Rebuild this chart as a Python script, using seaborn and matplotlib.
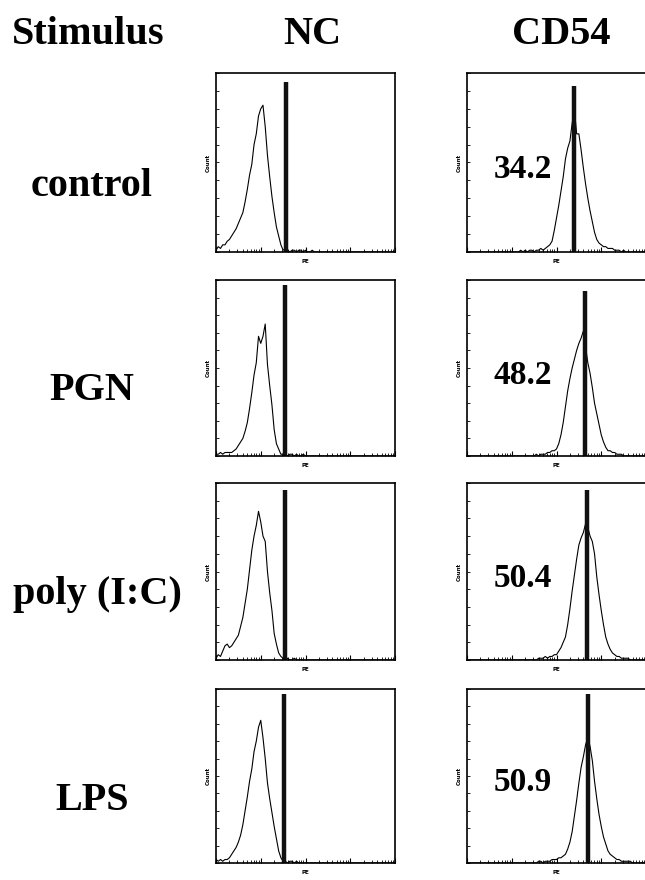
import numpy as np
import pandas as pd
import matplotlib
matplotlib.use("Agg")
import matplotlib.pyplot as plt
from matplotlib.ticker import LogLocator, NullFormatter, FixedLocator
import seaborn as sns

sns.set_theme(style="white")
plt.rcParams['font.family'] = ['Liberation Serif', 'DejaVu Serif']

# ---------------- data ----------------
stimuli = ["control", "PGN", "poly (I:C)", "LPS"]
columns = ["NC", "CD54"]
cd54_pct = ["34.2", "48.2", "50.4", "50.9"]

# PE axis: log decades 0..4 in steps of 0.05 (bin centres)
decades = np.round(np.arange(0, 4.0001, 0.05), 2)

nc_control = [1, 3, 2, 4, 4, 6, 7, 9, 11, 13, 16, 19, 22, 28, 35, 43, 49, 60, 66, 76,
              80, 82, 70, 54, 42, 31, 22, 14, 9, 4, 1, 2, 1, 0, 1, 1, 0, 1, 1, 0,
              1, 0, 0, 1, 0, 0, 0, 0, 0, 0, 0, 0, 0, 0, 0, 0, 0, 0, 0, 0,
              0, 0, 0, 0, 0, 0, 0, 0, 0, 0, 0, 0, 0, 0, 0, 0, 0, 0, 0, 0, 0]
nc_pgn = [1, 1, 2, 1, 2, 2, 2, 2, 3, 4, 6, 8, 10, 14, 19, 27, 36, 46, 53, 68,
          64, 68, 75, 52, 40, 29, 15, 7, 4, 1, 1, 1, 0, 1, 1, 0, 1, 0, 0, 1,
          0, 0, 0, 0, 0, 0, 0, 0, 0, 0, 0, 0, 0, 0, 0, 0, 0, 0, 0, 0,
          0, 0, 0, 0, 0, 0, 0, 0, 0, 0, 0, 0, 0, 0, 0, 0, 0, 0, 0, 0, 0]
nc_polyic = [1, 3, 2, 5, 8, 9, 7, 8, 10, 12, 14, 19, 24, 32, 40, 51, 62, 70, 76, 84,
             78, 70, 67, 50, 38, 28, 15, 9, 4, 2, 1, 0, 1, 0, 0, 1, 0, 0, 0, 0,
             0, 0, 0, 0, 0, 0, 0, 0, 0, 0, 0, 0, 0, 0, 0, 0, 0, 0, 0, 0,
             0, 0, 0, 0, 0, 0, 0, 0, 0, 0, 0, 0, 0, 0, 0, 0, 0, 0, 0, 0, 0]
nc_lps = [2, 1, 2, 1, 2, 2, 3, 5, 7, 9, 12, 16, 22, 30, 38, 47, 54, 64, 70, 78,
          82, 72, 60, 46, 37, 29, 21, 14, 7, 3, 1, 1, 0, 1, 1, 0, 1, 0, 0, 0,
          0, 0, 0, 0, 0, 0, 0, 0, 0, 0, 0, 0, 0, 0, 0, 0, 0, 0, 0, 0,
          0, 0, 0, 0, 0, 0, 0, 0, 0, 0, 0, 0, 0, 0, 0, 0, 0, 0, 0, 0, 0]
cd_control = [0, 0, 0, 0, 0, 0, 0, 0, 0, 0, 0, 0, 0, 0, 0, 0, 0, 0, 0, 0,
              0, 0, 0, 0, 1, 0, 1, 0, 1, 1, 0, 1, 1, 2, 1, 2, 3, 4, 6, 12,
              19, 26, 34, 42, 52, 58, 62, 72, 80, 66, 66, 57, 47, 38, 30, 23, 17, 11, 7, 5,
              4, 3, 3, 2, 2, 2, 1, 1, 1, 0, 1, 0, 0, 0, 0, 0, 0, 0, 0, 0, 0]
cd_pgn = [0, 0, 0, 0, 0, 0, 0, 0, 0, 0, 0, 0, 0, 0, 0, 0, 0, 0, 0, 0,
          0, 0, 0, 0, 0, 0, 0, 0, 0, 0, 0, 1, 0, 1, 1, 1, 2, 2, 3, 3,
          4, 7, 12, 19, 28, 37, 44, 50, 55, 60, 64, 67, 71, 62, 53, 47, 39, 30, 24, 18,
          12, 8, 5, 3, 3, 2, 2, 1, 1, 1, 0, 0, 0, 0, 0, 0, 0, 0, 0, 0, 0]
cd_polyic = [0, 0, 0, 0, 0, 0, 0, 0, 0, 0, 0, 0, 0, 0, 0, 0, 0, 0, 0, 0,
             0, 0, 0, 0, 0, 0, 0, 0, 0, 0, 0, 0, 1, 1, 1, 2, 1, 2, 2, 3,
             3, 5, 7, 10, 13, 20, 29, 39, 48, 57, 65, 69, 72, 77, 75, 70, 67, 60, 47, 37,
             28, 20, 13, 9, 6, 4, 3, 2, 2, 1, 1, 1, 1, 0, 0, 0, 0, 0, 0, 0, 0]
cd_lps = [0, 0, 0, 0, 0, 0, 0, 0, 0, 0, 0, 0, 0, 0, 0, 0, 0, 0, 0, 0,
          0, 0, 0, 0, 0, 0, 0, 0, 0, 0, 0, 0, 1, 1, 0, 1, 1, 1, 2, 2,
          2, 3, 3, 4, 5, 8, 12, 18, 27, 36, 46, 55, 61, 68, 72, 67, 59, 47, 37, 28,
          21, 15, 11, 7, 5, 4, 3, 2, 2, 1, 1, 1, 1, 1, 0, 0, 0, 0, 0, 0, 0]

nc_curves = [nc_control, nc_pgn, nc_polyic, nc_lps]
cd_curves = [cd_control, cd_pgn, cd_polyic, cd_lps]

# marker (gate) positions in log decades, and their heights (fraction of axis)
nc_gate = [1.56, 1.54, 1.54, 1.52]
nc_gate_top = [0.95, 0.97, 0.96, 0.97]
cd_gate = [2.39, 2.64, 2.68, 2.70]
cd_gate_top = [0.93, 0.94, 0.96, 0.97]

# ---------------- layout ----------------
W, H = 645, 880
fig = plt.figure(figsize=(W / 100, H / 100), dpi=100)

def fx(px):
    return px / W

def fy(py):
    return 1 - py / H

col_left = [216, 467]
col_width = 179
row_top = [73, 280, 483, 689]
row_bottom = [252, 456, 660, 863]

serif_bold = dict(family=['Liberation Serif', 'DejaVu Serif'], weight='bold', color='black')
tiny = dict(family=['DejaVu Sans'], weight='bold', fontsize=4, color='black')

def style_axis(ax):
    ax.set_xscale('log')
    ax.set_xlim(1, 10 ** 4)
    ax.set_ylim(0, 100)
    ax.xaxis.set_major_locator(LogLocator(base=10, numticks=10))
    ax.xaxis.set_minor_locator(LogLocator(base=10, subs=np.arange(2, 10), numticks=20))
    ax.xaxis.set_minor_formatter(NullFormatter())
    ax.yaxis.set_major_locator(FixedLocator(np.arange(0, 101, 10)))
    ax.tick_params(axis='both', which='both', direction='in', colors='black',
                   labelleft=False, labelbottom=False, left=True, bottom=True,
                   top=False, right=False)
    ax.tick_params(axis='x', which='major', length=3.5, width=0.8)
    ax.tick_params(axis='x', which='minor', length=2.2, width=0.6)
    ax.tick_params(axis='y', which='major', length=2, width=0.6)
    for s in ax.spines.values():
        s.set_color('black')
        s.set_linewidth(1.2)
    ax.set_xlabel('PE', **tiny, labelpad=5)
    ax.set_ylabel('Count', **tiny, labelpad=4)
    ax.grid(False)

pe = 10 ** decades
for r in range(4):
    for c in range(2):
        left = col_left[c]
        ax = fig.add_axes([fx(left), fy(row_bottom[r]), col_width / W,
                           (row_bottom[r] - row_top[r]) / H])
        ax.set_facecolor('white')
        vals = nc_curves[r] if c == 0 else cd_curves[r]
        df = pd.DataFrame({'PE': pe, 'Count': vals})
        sns.lineplot(data=df, x='PE', y='Count', ax=ax, color='black',
                     linewidth=0.8, estimator=None)
        g = nc_gate[r] if c == 0 else cd_gate[r]
        gt = nc_gate_top[r] if c == 0 else cd_gate_top[r]
        ax.axvline(10 ** g, ymin=0, ymax=gt, color='#111111', linewidth=3.2,
                   solid_capstyle='butt')
        style_axis(ax)
        if c == 1:
            ax.text(0.31, 0.46, cd54_pct[r], transform=ax.transAxes,
                    ha='center', va='center', fontsize=24, **serif_bold)

# headers
fig.text(fx(88), fy(34), 'Stimulus', ha='center', va='center', fontsize=29, **serif_bold)
fig.text(fx(312), fy(34), columns[0], ha='center', va='center', fontsize=29, **serif_bold)
fig.text(fx(561), fy(34), columns[1], ha='center', va='center', fontsize=29, **serif_bold)

row_label_y = [186, 390, 594, 800]
row_label_x = [92, 92, 97, 92]
for lab, x, y in zip(stimuli, row_label_x, row_label_y):
    fig.text(fx(x), fy(y), lab, ha='center', va='center', fontsize=29, **serif_bold)

fig.savefig('out.png', dpi=100, facecolor='white')
